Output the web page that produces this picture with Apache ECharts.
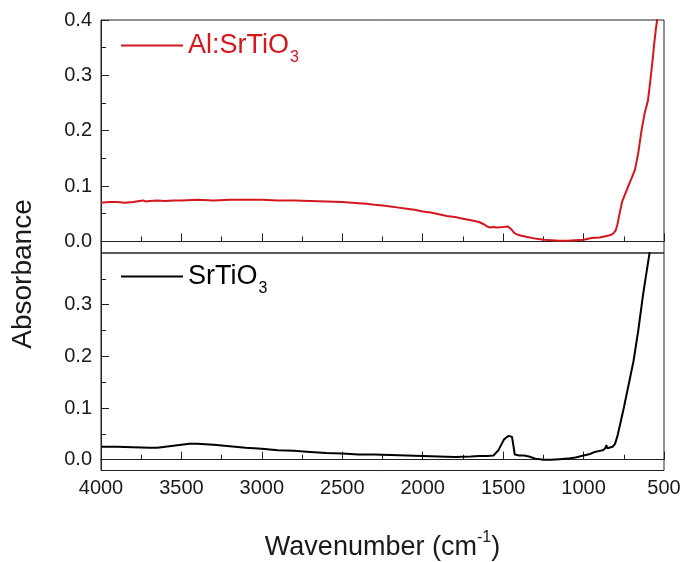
<!DOCTYPE html>
<html>
<head>
<meta charset="utf-8">
<script src="https://cdn.jsdelivr.net/npm/echarts@6/dist/echarts.min.js"></script>
<style>
  html, body { margin: 0; padding: 0; background: #fff; }
  #chart { width: 684px; height: 562px; }
</style>
</head>
<body>
<div id="chart"></div>
<script>
// wavenumber (cm-1) and absorbance
const alWave = [4000, 3950, 3900, 3850, 3800, 3760, 3740, 3720, 3700, 3650, 3600, 3550, 3500, 3400, 3300, 3200, 3100, 3000, 2900, 2800, 2700, 2600, 2500, 2400, 2350, 2300, 2250, 2200, 2150, 2100, 2050, 2000, 1950, 1900, 1850, 1800, 1750, 1700, 1650, 1620, 1600, 1580, 1560, 1540, 1500, 1470, 1450, 1430, 1400, 1350, 1300, 1250, 1200, 1150, 1100, 1050, 1000, 950, 900, 850, 820, 800, 790, 775, 760, 745, 720, 700, 680, 660, 640, 620, 600, 585, 570, 560, 550, 540];
const alAbs = [0.070, 0.071, 0.071, 0.070, 0.071, 0.073, 0.074, 0.072, 0.073, 0.074, 0.073, 0.074, 0.074, 0.075, 0.074, 0.075, 0.075, 0.075, 0.074, 0.074, 0.073, 0.072, 0.071, 0.069, 0.068, 0.066, 0.065, 0.063, 0.061, 0.059, 0.057, 0.054, 0.052, 0.049, 0.046, 0.044, 0.041, 0.038, 0.035, 0.031, 0.027, 0.025, 0.026, 0.025, 0.026, 0.027, 0.022, 0.015, 0.011, 0.008, 0.005, 0.003, 0.002, 0.001, 0.001, 0.002, 0.003, 0.006, 0.007, 0.010, 0.013, 0.020, 0.030, 0.052, 0.072, 0.083, 0.101, 0.115, 0.130, 0.160, 0.200, 0.232, 0.254, 0.290, 0.330, 0.360, 0.385, 0.405];

const stoWave = [4000, 3900, 3800, 3700, 3650, 3600, 3550, 3500, 3450, 3400, 3350, 3300, 3200, 3100, 3000, 2900, 2800, 2700, 2600, 2500, 2400, 2300, 2200, 2100, 2000, 1900, 1800, 1700, 1650, 1600, 1560, 1530, 1510, 1495, 1480, 1465, 1455, 1445, 1435, 1428, 1400, 1370, 1340, 1300, 1250, 1200, 1150, 1100, 1050, 1000, 960, 930, 900, 880, 865, 858, 852, 840, 820, 805, 790, 775, 750, 720, 690, 660, 630, 600, 585, 570];
const stoAbs = [0.025, 0.025, 0.024, 0.023, 0.023, 0.025, 0.027, 0.029, 0.031, 0.031, 0.030, 0.029, 0.026, 0.023, 0.021, 0.018, 0.017, 0.015, 0.013, 0.012, 0.010, 0.010, 0.009, 0.008, 0.007, 0.006, 0.005, 0.006, 0.007, 0.007, 0.008, 0.018, 0.030, 0.039, 0.043, 0.046, 0.049, 0.044, 0.025, 0.010, 0.008, 0.008, 0.006, 0.002, 0.000, 0.000, 0.001, 0.002, 0.004, 0.008, 0.011, 0.015, 0.017, 0.018, 0.022, 0.028, 0.022, 0.022, 0.025, 0.030, 0.045, 0.065, 0.100, 0.145, 0.190, 0.250, 0.320, 0.380, 0.410, 0.440];

const xTicks = [4000, 3500, 3000, 2500, 2000, 1500, 1000, 500];
const topYTicks = [0, 0.1, 0.2, 0.3, 0.4];
const bottomYTicks = [0, 0.1, 0.2, 0.3];
const yMinorTicks = [0.05, 0.15, 0.25, 0.35];

const FONT = 'Liberation Sans, Arial, sans-serif';
const RED = '#d3171d';
const INK = '#1a1a1a';

function pairs(xs, ys) {
    return xs.map((x, i) => [x, ys[i]]);
}

function xAxisFor(gridIndex, showLabels) {
    return {
        type: 'value',
        gridIndex: gridIndex,
        inverse: true,
        min: 500,
        max: 4000,
        interval: 500,
        axisLine: { show: true, lineStyle: { color: '#222', width: 1 } },
        axisTick: { show: true, inside: true, length: 8, lineStyle: { color: '#222' } },
        minorTick: { show: true, splitNumber: 2, length: 5, lineStyle: { color: '#222' } },
        splitLine: { show: false },
        axisLabel: {
            show: showLabels,
            fontFamily: FONT,
            fontSize: 20,
            color: INK,
            margin: 8,
            customValues: xTicks,
            formatter: v => String(v)
        },
        name: showLabels ? 'Wavenumber (cm{sup|-1})' : '',
        nameLocation: 'middle',
        nameGap: 59,
        nameTextStyle: {
            fontFamily: FONT,
            fontSize: 27,
            color: INK,
            rich: {
                sup: { fontFamily: FONT, fontSize: 16, color: INK, padding: [0, 0, 20, 0] }
            }
        }
    };
}

function yAxisFor(gridIndex, labels) {
    return {
        type: 'value',
        gridIndex: gridIndex,
        position: 'left',
        min: -0.021,
        max: 0.4,
        axisLine: { show: true, lineStyle: { color: '#222', width: 1 } },
        axisTick: { show: true, inside: true, length: 8, customValues: labels, lineStyle: { color: '#222' } },
        splitLine: { show: false },
        axisLabel: {
            fontFamily: FONT,
            fontSize: 20,
            color: INK,
            margin: 9,
            customValues: labels,
            formatter: v => v.toFixed(1)
        }
    };
}

function yMinorFor(gridIndex) {
    return {
        type: 'value',
        gridIndex: gridIndex,
        position: 'left',
        offset: 0,
        min: -0.021,
        max: 0.4,
        axisLine: { show: false },
        axisTick: { show: true, inside: true, length: 5, customValues: yMinorTicks, lineStyle: { color: '#222' } },
        splitLine: { show: false },
        axisLabel: { show: false }
    };
}

function legendFor(name, top, color) {
    return {
        data: [name],
        left: 121,
        top: top,
        padding: 0,
        icon: 'rect',
        itemWidth: 62,
        itemHeight: 2,
        selectedMode: false,
        formatter: n => n.replace(/3$/, '{sub|3}'),
        textStyle: {
            fontFamily: FONT,
            fontSize: 27,
            color: color,
            rich: {
                sub: { fontFamily: FONT, fontSize: 16, color: color, padding: [25, 0, 0, 1] }
            }
        }
    };
}

const chart = echarts.init(document.getElementById('chart'), null, { renderer: 'canvas' });

chart.setOption({
    animation: false,
    backgroundColor: '#fff',
    grid: [
        { left: 101, top: 20, width: 563, height: 233, show: true, borderColor: '#222', borderWidth: 1 },
        { left: 101, top: 253, width: 563, height: 233, show: true, borderColor: '#222', borderWidth: 1 }
    ],
    xAxis: [xAxisFor(0, false), xAxisFor(1, true)],
    yAxis: [yAxisFor(0, topYTicks), yMinorFor(0), yAxisFor(1, bottomYTicks), yMinorFor(1)],
    legend: [legendFor('Al:SrTiO3', 32, RED), legendFor('SrTiO3', 263, '#000')],
    graphic: [{
        type: 'text',
        x: 23,
        y: 274,
        rotation: Math.PI / 2,
        style: {
            text: 'Absorbance',
            fontFamily: FONT,
            fontSize: 28,
            fill: INK,
            align: 'center',
            verticalAlign: 'middle'
        }
    }],
    series: [
        {
            name: 'Al:SrTiO3',
            type: 'line',
            xAxisIndex: 0,
            yAxisIndex: 0,
            data: pairs(alWave, alAbs),
            symbol: 'none',
            lineStyle: { color: RED, width: 2 },
            itemStyle: { color: RED }
        },
        {
            name: 'SrTiO3',
            type: 'line',
            xAxisIndex: 1,
            yAxisIndex: 2,
            data: pairs(stoWave, stoAbs),
            symbol: 'none',
            lineStyle: { color: '#000', width: 2 },
            itemStyle: { color: '#000' }
        }
    ]
});
</script>
</body>
</html>
